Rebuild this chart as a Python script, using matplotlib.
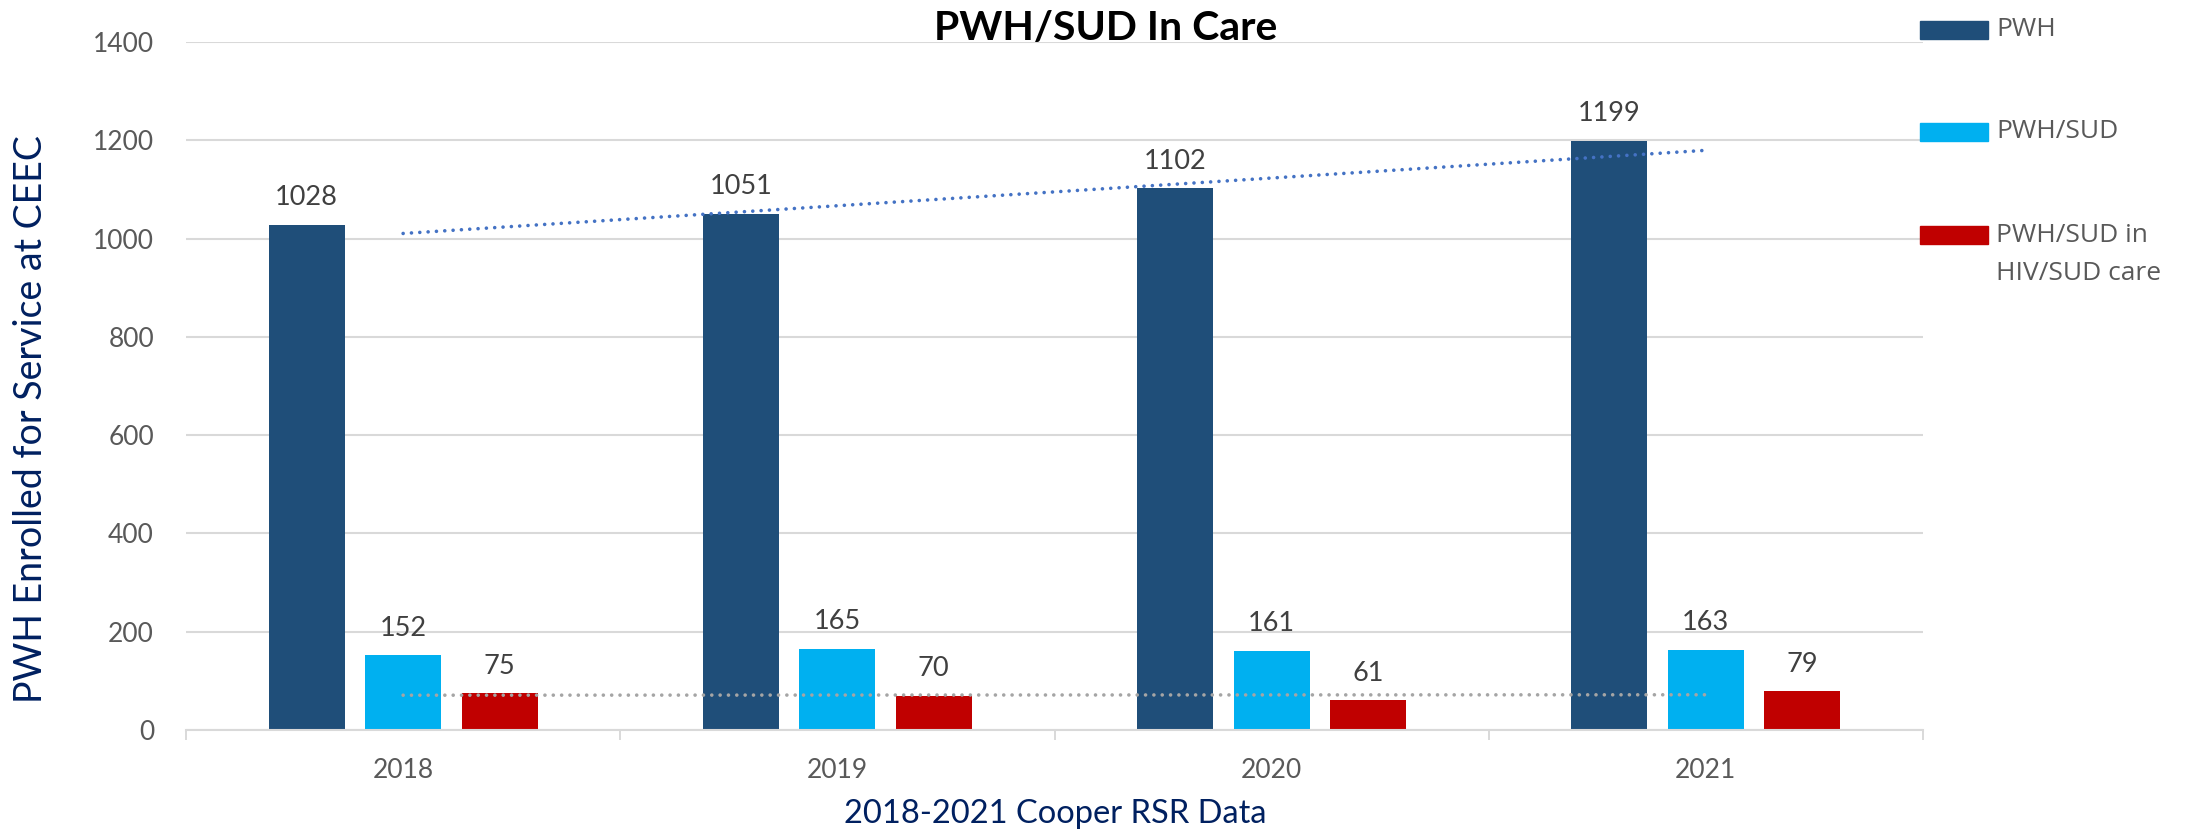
import numpy as np
from matplotlib import pyplot as plt
from matplotlib.patches import Rectangle

years = ['2018', '2019', '2020', '2021']
series_names = ['PWH', 'PWH/SUD', 'PWH/SUD in\nHIV/SUD care']
pwh = [1028, 1051, 1102, 1199]
pwh_sud = [152, 165, 161, 163]
pwh_sud_care = [75, 70, 61, 79]
yticks = [0, 200, 400, 600, 800, 1000, 1200, 1400]

colors = ['#1F4E79', '#00B0F0', '#C00000']
W, H = 2190, 835

plt.rcParams['font.family'] = ['Lato', 'DejaVu Sans']

fig = plt.figure(figsize=(W / 100, H / 100), dpi=100)
ax = fig.add_axes([186 / W, 105 / H, (1923 - 186) / W, 688 / H])

x = np.arange(len(years))
width = 0.175
step = 0.222
values = [pwh, pwh_sud, pwh_sud_care]
for i, (vals, col) in enumerate(zip(values, colors)):
    pos = x + (i - 1) * step
    ax.bar(pos, vals, width, color=col, zorder=2)
    for px, v in zip(pos, vals):
        ax.annotate(str(v), (px, v), xytext=(0, 14), textcoords='offset points',
                    ha='center', va='baseline', fontsize=19.5, color='#404040')

# linear trend lines (Excel style) for PWH and PWH/SUD in care
for vals, col in [(pwh, '#4472C4'), (pwh_sud_care, '#A5A5A5')]:
    k, b = np.polyfit(x, vals, 1)
    ax.plot(x, k * x + b, color=col, lw=2.6, linestyle=(0, (0.01, 2.3)),
            dash_capstyle='round', zorder=3)

ax.set_xlim(-0.5, len(years) - 0.5)
ax.set_ylim(0, 1400)
ax.set_yticks(yticks)
ax.set_xticks(x)
ax.set_xticklabels(years)
ax.set_xticks(np.arange(len(years) + 1) - 0.5, minor=True)
ax.tick_params(axis='y', length=0, pad=23, labelsize=19, labelcolor='#595959')
ax.tick_params(axis='x', which='major', length=0, pad=20, labelsize=19, labelcolor='#595959')
ax.tick_params(axis='x', which='minor', length=7.5, width=1.4, color='#D9D9D9')
ax.grid(axis='y', color='#D9D9D9', lw=1.5, zorder=0)
ax.set_axisbelow(True)
for s in ['top', 'right', 'left']:
    ax.spines[s].set_visible(False)
ax.spines['bottom'].set_color('#D9D9D9')
ax.spines['bottom'].set_linewidth(1.5)

fig.text(1106 / W, 1 - 28 / H, 'PWH/SUD In Care', ha='center', va='center',
         fontsize=29.5, fontweight='bold', color='black')
fig.text(1055 / W, 1 - 814 / H, '2018-2021 Cooper RSR Data', ha='center', va='center',
         fontsize=23.5, color='#002060')
fig.text(31 / W, 1 - 419 / H, 'PWH Enrolled for Service at CEEC', ha='center', va='center',
         rotation=90, fontsize=27, color='#002060')

# legend on the right
leg_y = [30, 132, 235]
for name, col, yc in zip(series_names, colors, leg_y):
    fig.add_artist(Rectangle((1920 / W, 1 - (yc + 9) / H), 68 / W, 18 / H,
                             color=col, transform=fig.transFigure))
    for j, line in enumerate(name.split('\n')):
        fig.text(1996 / W, 1 - (yc + j * 39) / H, line, ha='left', va='center',
                 fontsize=19, color='#595959', family=['Open Sans', 'DejaVu Sans'])

fig.savefig('out.png', dpi=100)
